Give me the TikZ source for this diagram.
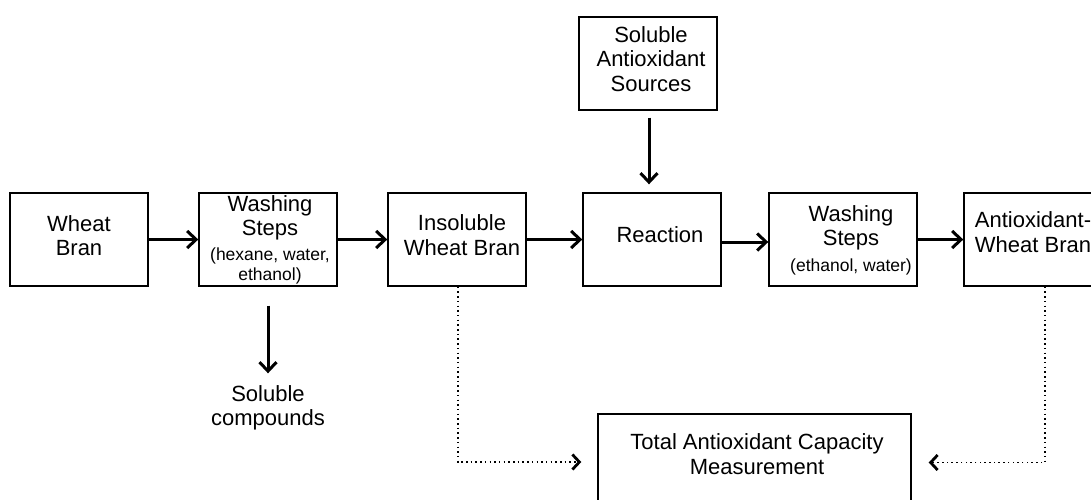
\documentclass[tikz,border=0pt]{standalone}
\usepackage{fontspec}
\setmainfont{Liberation Sans}
\usetikzlibrary{arrows.meta}
\begin{document}
\begin{tikzpicture}[x=1pt,y=-1pt,
  box/.style={draw,line width=1.4pt,inner sep=0pt,minimum width=138pt,minimum height=93pt},
  txt/.style={font=\fontsize{22}{24.5}\selectfont,align=center,inner sep=0pt},
  flow/.style={line width=3pt,-{Straight Barb[length=9pt,width=17pt]}},
  meas/.style={line width=1.5pt,dash pattern=on 1.5pt off 3.2pt,-{Straight Barb[length=7pt,width=15pt,line width=2.8pt]}}]
\useasboundingbox (0,0) rectangle (1091,499);
\clip (0,0) rectangle (1091,499);
% boxes
\node[box] (wb)  at (79,239.5) {};
\node[box] (w1)  at (268,239.5) {};
\node[box] (ins) at (457,239.5) {};
\node[box] (rx)  at (652,239.5) {};
\node[box] (sas) at (648,63.5) {};
\node[box,minimum width=148pt] (w2) at (843,239.5) {};
\node[box] (awb) at (1033,239.5) {};
\node[box,minimum width=313pt] (tac) at (754.5,460.5) {};
% texts
\node[txt] (wbt)  at (79,235.5) {Wheat\\Bran};
\node[txt] (w1t)  at (270,240) {Washing\\Steps\\{\fontsize{17.5}{21}\selectfont (hexane, water,}\\[-4pt]{\fontsize{17.5}{21}\selectfont ethanol)}};
\node[txt] (inst) at (462,235) {Insoluble\\Wheat Bran};
\node[txt] (rxt)  at (660,235) {Reaction};
\node[txt] (sast) at (651,59) {Soluble\\Antioxidant\\Sources};
\node[txt] (w2t)  at (851,240) {Washing\\Steps\\[1pt]{\fontsize{17.5}{21}\selectfont (ethanol, water)}};
\node[txt] (awbt) at (1033,232) {Antioxidant-\\Wheat Bran};
\node[txt] (tact) at (757,454) {Total Antioxidant Capacity\\Measurement};
\node[txt] (sc)   at (268,408) {Soluble\\compounds};
% flow arrows
\draw[flow] (wb.east) -- (w1.west);
\draw[flow] (w1.east) -- (ins.west);
\draw[flow] (ins.east) -- (rx.west);
\draw[flow] ([yshift=-2.5pt]rx.east) -- ([yshift=-2.5pt]w2.west);
\draw[flow] (w2.east) -- (awb.west);
\draw[flow,shorten <=7pt,shorten >=8pt] ([xshift=1pt]sas.south) -- ([xshift=-3pt]rx.north);
\draw[flow,shorten <=19pt,shorten >=12pt] (w1.south) -- (sc.north);
% measurement
\draw[meas,shorten >=16pt] ([xshift=1pt]ins.south) |- ([yshift=-1.5pt]tac.west);
\draw[meas,shorten >=17pt] ([xshift=12pt]awb.south) |- ([yshift=-2pt]tac.east);
\end{tikzpicture}
\end{document}
